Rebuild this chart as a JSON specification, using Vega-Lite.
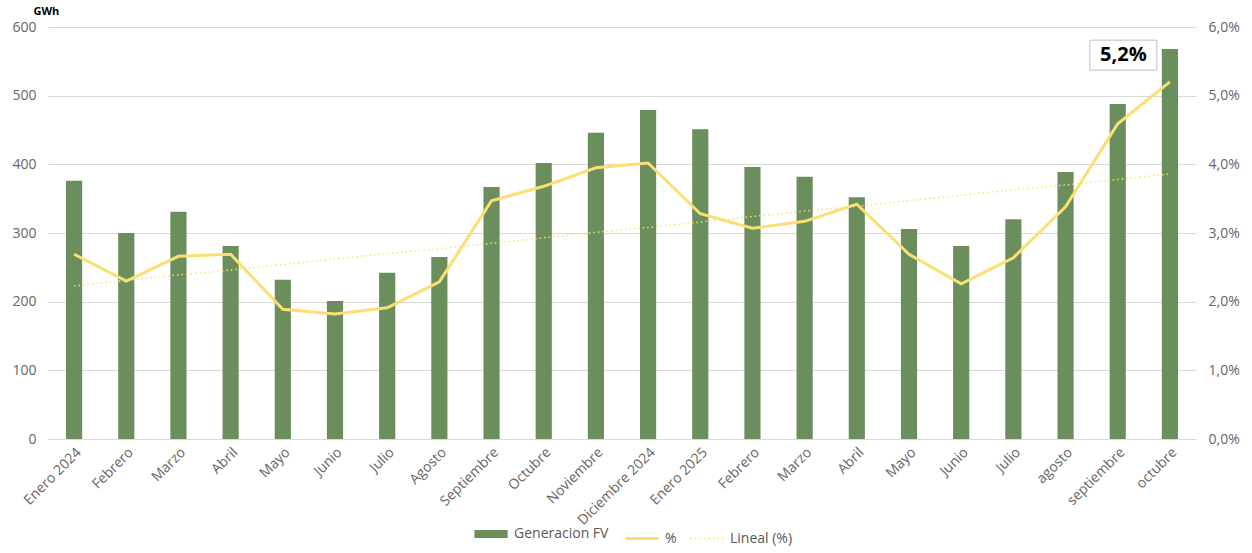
{
  "$schema": "https://vega.github.io/schema/vega-lite/v6.json",
  "width": 1148,
  "height": 412,
  "padding": {"left": 11, "top": 5, "right": 5, "bottom": 0},
  "config": {
    "font": "Open Sans",
    "view": {"stroke": null},
    "axis": {"labelColor": "#666666", "labelFontSize": 14, "labelFont": "Open Sans", "domain": false, "ticks": false}
  },
  "data": {"values": [
    {"idx": 0, "gen": 376, "pct": 2.69, "trend": 2.23},
    {"idx": 1, "gen": 300, "pct": 2.30, "trend": 2.31},
    {"idx": 2, "gen": 331, "pct": 2.66, "trend": 2.39},
    {"idx": 3, "gen": 281, "pct": 2.69, "trend": 2.46},
    {"idx": 4, "gen": 232, "pct": 1.89, "trend": 2.54},
    {"idx": 5, "gen": 201, "pct": 1.82, "trend": 2.62},
    {"idx": 6, "gen": 242, "pct": 1.91, "trend": 2.70},
    {"idx": 7, "gen": 265, "pct": 2.29, "trend": 2.77},
    {"idx": 8, "gen": 367, "pct": 3.47, "trend": 2.85},
    {"idx": 9, "gen": 402, "pct": 3.68, "trend": 2.93},
    {"idx": 10, "gen": 446, "pct": 3.95, "trend": 3.01},
    {"idx": 11, "gen": 479, "pct": 4.02, "trend": 3.08},
    {"idx": 12, "gen": 451, "pct": 3.28, "trend": 3.16},
    {"idx": 13, "gen": 396, "pct": 3.07, "trend": 3.24},
    {"idx": 14, "gen": 382, "pct": 3.17, "trend": 3.32},
    {"idx": 15, "gen": 352, "pct": 3.42, "trend": 3.39},
    {"idx": 16, "gen": 306, "pct": 2.69, "trend": 3.47},
    {"idx": 17, "gen": 281, "pct": 2.26, "trend": 3.55},
    {"idx": 18, "gen": 320, "pct": 2.64, "trend": 3.63},
    {"idx": 19, "gen": 389, "pct": 3.38, "trend": 3.70},
    {"idx": 20, "gen": 488, "pct": 4.59, "trend": 3.78},
    {"idx": 21, "gen": 568, "pct": 5.20, "trend": 3.86}
  ]},
  "encoding": {
    "x": {
      "field": "idx", "type": "ordinal", "title": null,
      "scale": {"paddingInner": 0.69, "paddingOuter": 0.345},
      "axis": {
        "labelAngle": -45, "labelPadding": 6,
        "labelExpr": "['Enero 2024','Febrero','Marzo','Abril','Mayo','Junio','Julio','Agosto','Septiembre','Octubre','Noviembre','Diciembre 2024','Enero 2025','Febrero','Marzo','Abril','Mayo','Junio','Julio','agosto','septiembre','octubre'][datum.value]"
      }
    }
  },
  "layer": [
    {
      "mark": {"type": "bar"},
      "encoding": {
        "y": {
          "field": "gen", "type": "quantitative",
          "scale": {"domain": [0, 600]},
          "axis": {
            "values": [0, 100, 200, 300, 400, 500, 600], "grid": true, "gridColor": "#d9d9d9",
            "labelPadding": 12, "title": "GWh", "titleAngle": 0, "titleAlign": "left",
            "titleBaseline": "bottom", "titleX": -15, "titleY": -11,
            "titleFontSize": 11, "titleFontWeight": "bold", "titleColor": "#000000"
          }
        },
        "color": {
          "datum": "Generacion FV",
          "scale": {"domain": ["Generacion FV", "%", "Lineal (%)"], "range": ["#6a8f5c", "#fbdf72", "#fbdf72"]},
          "legend": {
            "orient": "none", "legendX": 436, "legendY": 500, "direction": "horizontal", "title": null,
            "labelFontSize": 14, "labelColor": "#595959", "labelFont": "Open Sans",
            "symbolType": "stroke", "symbolSize": 1100, "columnPadding": 10, "labelOffset": 16,
            "encode": {
              "symbols": {
                "update": {
                  "shape": {"value": "stroke"},
                  "fill": {"value": "transparent"},
                  "stroke": {"signal": "datum.value == 'Generacion FV' ? '#6a8f5c' : '#fbdf72'"},
                  "strokeWidth": {"signal": "datum.value == 'Generacion FV' ? 8 : datum.value == '%' ? 3 : 1.5"},
                  "strokeDash": {"signal": "datum.value == 'Lineal (%)' ? [1.5, 3] : []"},
                  "strokeCap": {"value": "butt"},
                  "opacity": {"value": 1}
                }
              }
            }
          }
        }
      }
    },
    {
      "layer": [
        {
          "mark": {"type": "line", "strokeWidth": 3},
          "encoding": {
            "y": {
              "field": "pct", "type": "quantitative",
              "scale": {"domain": [0, 6]},
              "axis": {
                "orient": "right", "grid": false, "values": [0, 1, 2, 3, 4, 5, 6], "title": null,
                "labelPadding": 12,
                "labelExpr": "replace(format(datum.value, '.1f'), '.', ',') + '%'"
              }
            },
            "color": {"datum": "%"}
          }
        },
        {
          "mark": {"type": "line", "strokeWidth": 1.5, "strokeDash": [1.5, 3]},
          "encoding": {
            "y": {"field": "trend", "type": "quantitative"},
            "color": {"datum": "Lineal (%)"}
          }
        },
        {
          "data": {"values": [{"idx": 20, "ypos": 5.59, "label": "5,2%"}]},
          "mark": {"type": "point", "shape": "M-1,-0.448L1,-0.448L1,0.448L-1,0.448Z", "size": 4489, "filled": true, "fill": "#ffffff", "stroke": "#bfbfbf", "strokeWidth": 1, "opacity": 1},
          "encoding": {
            "x": {"field": "idx", "type": "ordinal", "bandPosition": 0.85},
            "y": {"field": "ypos", "type": "quantitative"}
          }
        },
        {
          "data": {"values": [{"idx": 20, "ypos": 5.59, "label": "5,2%"}]},
          "mark": {"type": "text", "fontSize": 20, "fontWeight": "bold", "font": "Open Sans", "color": "#000000", "baseline": "middle", "align": "center"},
          "encoding": {
            "x": {"field": "idx", "type": "ordinal", "bandPosition": 0.85},
            "y": {"field": "ypos", "type": "quantitative"},
            "text": {"field": "label"}
          }
        }
      ]
    }
  ],
  "resolve": {"scale": {"y": "independent"}}
}
